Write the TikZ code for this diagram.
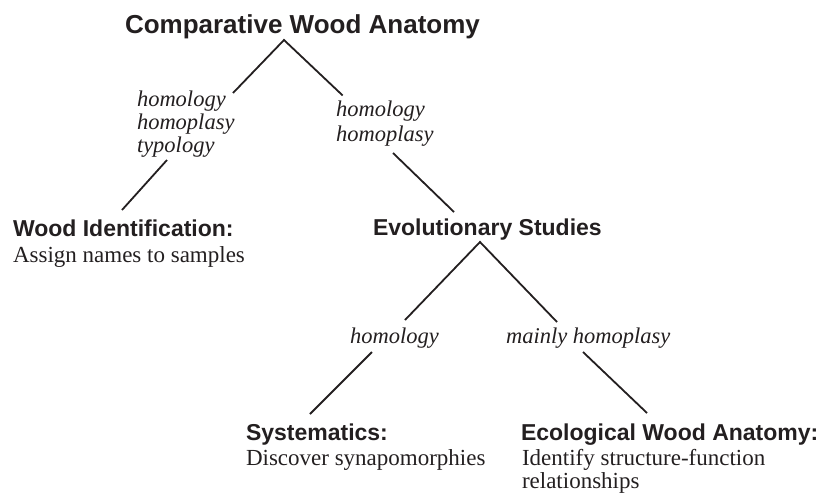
\documentclass[tikz,border=0pt]{standalone}
\usepackage{fontspec}
\setmainfont{Liberation Serif}
\setsansfont{Liberation Sans}
\definecolor{ink}{HTML}{231F20}
\begin{document}
\begin{tikzpicture}[x=1pt,y=-1pt,
  txt/.style={inner sep=0pt,outer sep=0pt,anchor=base west,text=ink},
  ttl/.style={txt,font=\sffamily\bfseries\fontsize{26}{30}\selectfont},
  head/.style={txt,font=\sffamily\bfseries\fontsize{23}{27}\selectfont},
  body/.style={txt,font=\fontsize{23}{27}\selectfont},
  lab/.style={txt,font=\itshape\fontsize{22.5}{26}\selectfont},
  conn/.style={draw=ink,line width=1.8pt}]
\useasboundingbox (0,0) rectangle (821,493);
% text
\node[ttl] (title) at (125,33.3) {Comparative Wood Anatomy};
\node[lab] (la1) at (137,106) {homology};
\node[lab] (la2) at (137,129) {homoplasy};
\node[lab] (la3) at (137,152) {typology};
\node[lab] (ra1) at (336,116) {homology};
\node[lab] (ra2) at (336,141) {homoplasy};
\node[head] (wid) at (13,236) {Wood Identification:};
\node[body] (widt) at (13,262) {Assign names to samples};
\node[head] (evo) at (373,235) {Evolutionary Studies};
\node[lab] (lb) at (350,343) {homology};
\node[lab] (rb) at (506,343) {mainly homoplasy};
\node[head] (sys) at (246,440) {Systematics:};
\node[body] (syst) at (246,465) {Discover synapomorphies};
\node[head] (eco) at (521,440) {Ecological Wood Anatomy:};
\node[body] (ecot1) at (522,465) {Identify structure-function};
\node[body] (ecot2) at (522,488) {relationships};
% connector end points
\coordinate (apex1) at (284,40);
\coordinate (l1e) at (233,93);
\coordinate (r1e) at (342.7,95.5);
\coordinate (l2s) at (167,160);
\coordinate (l2e) at (122,210);
\coordinate (r2s) at (393,153);
\coordinate (r2e) at (454,212);
\coordinate (apex2) at (480,242);
\coordinate (l3e) at (405,320);
\coordinate (r3e) at (557,322);
\coordinate (l4s) at (372,352);
\coordinate (l4e) at (310,414);
\coordinate (r4s) at (583,352);
\coordinate (r4e) at (647,413);
% connectors
\draw[conn] (l1e) -- (apex1) -- (r1e);
\draw[conn] (l2s) -- (l2e);
\draw[conn] (r2s) -- (r2e);
\draw[conn] (l3e) -- (apex2) -- (r3e);
\draw[conn] (l4s) -- (l4e);
\draw[conn] (r4s) -- (r4e);
\end{tikzpicture}
\end{document}
